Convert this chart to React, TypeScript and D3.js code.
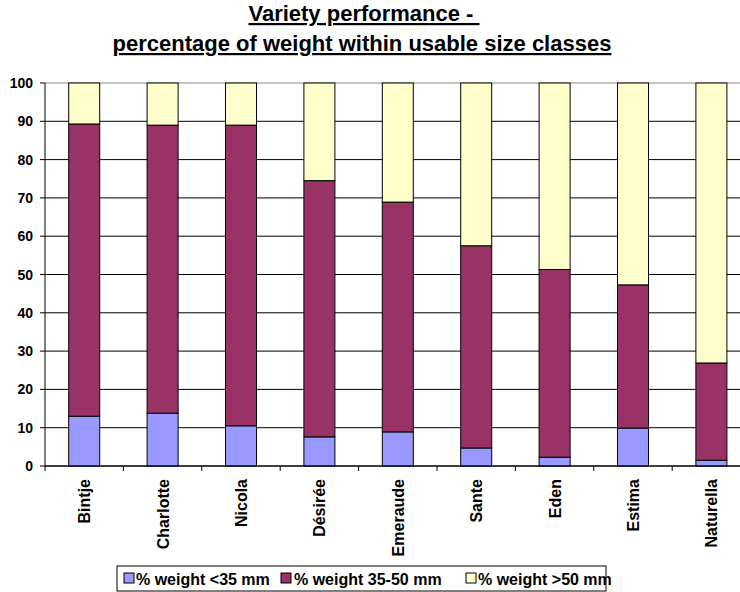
import React from "react";
import * as d3 from "d3";

const categories = ["Bintje", "Charlotte", "Nicola", "Désirée", "Emeraude", "Sante", "Eden", "Estima", "Naturella"];
const weightUnder35 = [13.0, 13.8, 10.5, 7.6, 8.9, 4.7, 2.3, 9.9, 1.5];
const weight35to50 = [76.3, 75.2, 78.5, 66.9, 60.0, 52.8, 49.0, 37.4, 25.4];
const weightOver50 = [10.7, 11.0, 11.0, 25.5, 31.1, 42.5, 48.7, 52.7, 73.1];
const seriesNames = ["% weight <35 mm", "% weight 35-50 mm", "% weight >50 mm"];
const seriesColors = ["#9999ff", "#993366", "#ffffcc"];
const yTicks = [0, 10, 20, 30, 40, 50, 60, 70, 80, 90, 100];

export default function App() {
  const W = 740, H = 592;
  const left = 45, right = 750.6, top = 83, bottom = 466;
  const xStep = d3.scaleBand<string>().domain(categories).range([left, right]);
  const y = d3.scaleLinear().domain([0, 100]).range([bottom, top]);
  const rows = categories.map((c, i) => ({ cat: c, s0: weightUnder35[i], s1: weight35to50[i], s2: weightOver50[i] }));
  const stack = d3.stack<any>().keys(["s0", "s1", "s2"])(rows);
  const font = "'Liberation Sans', Arial, sans-serif";
  const bw = 31;

  const legendItems = [
    { x: 124, tx: 136 },
    { x: 281, tx: 294 },
    { x: 466, tx: 478 },
  ];

  return (
    <svg width={W} height={H} style={{ position: "absolute", left: 0, top: 0, background: "#fff" }} fontFamily={font}>
      <text x={364} y={21} textAnchor="middle" fontSize={22} fontWeight="bold" textDecoration="underline" style={{ whiteSpace: "pre" }}>Variety performance - </text>
      <text x={362} y={51} textAnchor="middle" fontSize={22} fontWeight="bold" textDecoration="underline">percentage of weight within usable size classes</text>
      {yTicks.map((t) => (
        <g key={t}>
          <line x1={left} x2={W} y1={y(t)} y2={y(t)} stroke={t === 100 ? "#888" : "#000"} strokeWidth={1} />
          <line x1={left - 5} x2={left} y1={y(t)} y2={y(t)} stroke="#000" />
          <text x={33} y={y(t) + 5} textAnchor="end" fontSize={14} fontWeight="bold">{t}</text>
        </g>
      ))}
      {stack.map((s, si) =>
        s.map((d, i) => {
          const cx = (xStep(categories[i]) as number) + xStep.bandwidth() / 2;
          return (
            <rect key={si + "-" + i} x={cx - bw / 2} width={bw} y={y(d[1])} height={y(d[0]) - y(d[1])}
              fill={seriesColors[si]} stroke="#000" strokeWidth={1} />
          );
        })
      )}
      <line x1={left} x2={left} y1={top} y2={bottom} stroke="#000" />
      <line x1={left} x2={W} y1={bottom} y2={bottom} stroke="#000" />
      {categories.map((c, i) => (
        <line key={"t" + i} x1={(xStep(c) as number)} x2={(xStep(c) as number)} y1={bottom} y2={bottom + 5} stroke="#000" />
      ))}
      {categories.map((c) => {
        const cx = (xStep(c) as number) + xStep.bandwidth() / 2;
        return (
          <text key={"l" + c} transform={`translate(${cx + 6},${479}) rotate(-90)`} textAnchor="end" fontSize={16} fontWeight="bold">{c}</text>
        );
      })}
      <rect x={117} y={566} width={489} height={25} fill="#fff" stroke="#000" />
      {seriesNames.map((n, i) => (
        <g key={n}>
          <rect x={legendItems[i].x} y={573} width={10} height={10} fill={seriesColors[i]} stroke="#000" />
          <text x={legendItems[i].tx} y={584.5} fontSize={16} fontWeight="bold">{n}</text>
        </g>
      ))}
    </svg>
  );
}
